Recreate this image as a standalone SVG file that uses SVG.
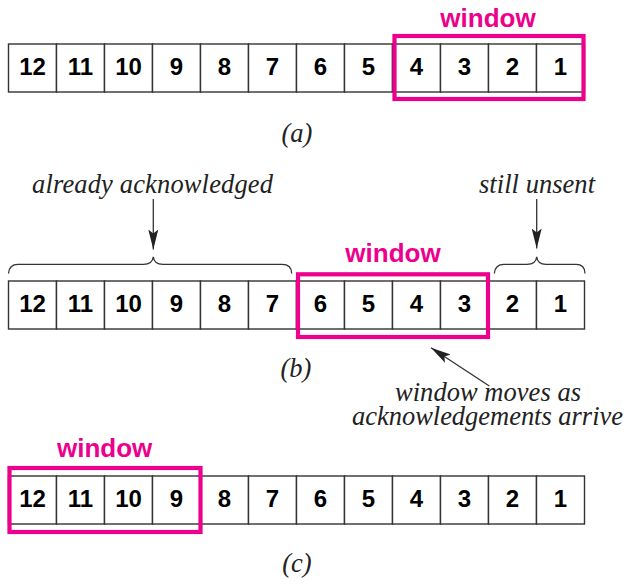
<svg xmlns="http://www.w3.org/2000/svg" width="628" height="584" viewBox="0 0 628 584">
<defs>
<style>
.cell{fill:#fff;stroke:#333;stroke-width:1.4}
.num{font-family:"Liberation Sans",Arial,sans-serif;font-weight:bold;font-size:24px;text-anchor:middle;fill:#000}
.win{fill:none;stroke:#ec008c;stroke-width:4.2}
.wlab{font-family:"Liberation Sans",Arial,sans-serif;font-weight:bold;font-size:26px;text-anchor:middle;fill:#ec008c}
.lab{font-family:"Liberation Serif","Times New Roman",serif;font-style:italic;font-size:26.5px;text-anchor:middle;fill:#222}
.line{fill:none;stroke:#333;stroke-width:1.3}
</style>
<marker id="ah" viewBox="0 0 20 10" refX="20" refY="5" markerWidth="20" markerHeight="10" markerUnits="userSpaceOnUse" orient="auto">
<path d="M0,0 L20,5 L0,10 L4,5 Z" fill="#222"/>
</marker>
<g id="rowcells">
<rect class="cell" x="8.5" y="0" width="48" height="48"/>
<rect class="cell" x="56.5" y="0" width="48" height="48"/>
<rect class="cell" x="104.5" y="0" width="48" height="48"/>
<rect class="cell" x="152.5" y="0" width="48" height="48"/>
<rect class="cell" x="200.5" y="0" width="48" height="48"/>
<rect class="cell" x="248.5" y="0" width="48" height="48"/>
<rect class="cell" x="296.5" y="0" width="48" height="48"/>
<rect class="cell" x="344.5" y="0" width="48" height="48"/>
<rect class="cell" x="392.5" y="0" width="48" height="48"/>
<rect class="cell" x="440.5" y="0" width="48" height="48"/>
<rect class="cell" x="488.5" y="0" width="48" height="48"/>
<rect class="cell" x="536.5" y="0" width="48" height="48"/>
<text class="num" x="32.5" y="30.5">12</text>
<text class="num" x="80.5" y="30.5">11</text>
<text class="num" x="128.5" y="30.5">10</text>
<text class="num" x="176.5" y="30.5">9</text>
<text class="num" x="224.5" y="30.5">8</text>
<text class="num" x="272.5" y="30.5">7</text>
<text class="num" x="320.5" y="30.5">6</text>
<text class="num" x="368.5" y="30.5">5</text>
<text class="num" x="416.5" y="30.5">4</text>
<text class="num" x="464.5" y="30.5">3</text>
<text class="num" x="512.5" y="30.5">2</text>
<text class="num" x="560.5" y="30.5">1</text>
</g>
</defs>

<g id="row-a">
<use href="#rowcells" x="0" y="44"/>
</g>
<g id="window-a">
<rect class="win" x="394.5" y="36" width="189" height="63"/>
<text class="wlab" x="488" y="27">window</text>
</g>
<text class="lab" x="297" y="142">(a)</text>

<g id="row-b">
<use href="#rowcells" x="0" y="281"/>
</g>
<g id="window-b">
<rect class="win" x="298" y="274.3" width="190" height="62.7"/>
<text class="wlab" x="393" y="262">window</text>
</g>
<g id="label-acked">
<text class="lab" x="152.5" y="193" textLength="241" lengthAdjust="spacing">already acknowledged</text>
</g>
<g id="label-unsent">
<text class="lab" x="537" y="193" textLength="116" lengthAdjust="spacing">still unsent</text>
</g>
<g id="label-moves">
<text class="lab" x="488" y="401" textLength="186" lengthAdjust="spacing">window moves as</text>
<text class="lab" x="487.5" y="425" textLength="271" lengthAdjust="spacing">acknowledgements arrive</text>
</g>
<text class="lab" x="296" y="377">(b)</text>

<g id="row-c">
<use href="#rowcells" x="0" y="476"/>
</g>
<g id="window-c">
<rect class="win" x="9.5" y="468" width="191" height="64"/>
<text class="wlab" x="104.7" y="457">window</text>
</g>
<text class="lab" x="297" y="572">(c)</text>

<g id="connectors">
<path class="line" d="M8.5,273.5 Q9,264.3 18,264.3 L143.5,264.3 Q152.5,264.3 153.3,256.7 Q154,264.3 163,264.3 L282,264.3 Q291.7,264.3 291.7,273.5"/>
<path class="line" d="M494.3,273.5 Q495,264.3 504,264.3 L527,264.3 Q536,264.3 536.7,256.7 Q537.5,264.3 546,264.3 L576,264.3 Q585,264.3 585,273.5"/>
<line class="line" x1="153.3" y1="199" x2="153.3" y2="249.5" marker-end="url(#ah)"/>
<line class="line" x1="536.7" y1="199" x2="536.7" y2="248.5" marker-end="url(#ah)"/>
<line class="line" x1="489.3" y1="386" x2="431" y2="347.7" marker-end="url(#ah)"/>
</g>
</svg>
